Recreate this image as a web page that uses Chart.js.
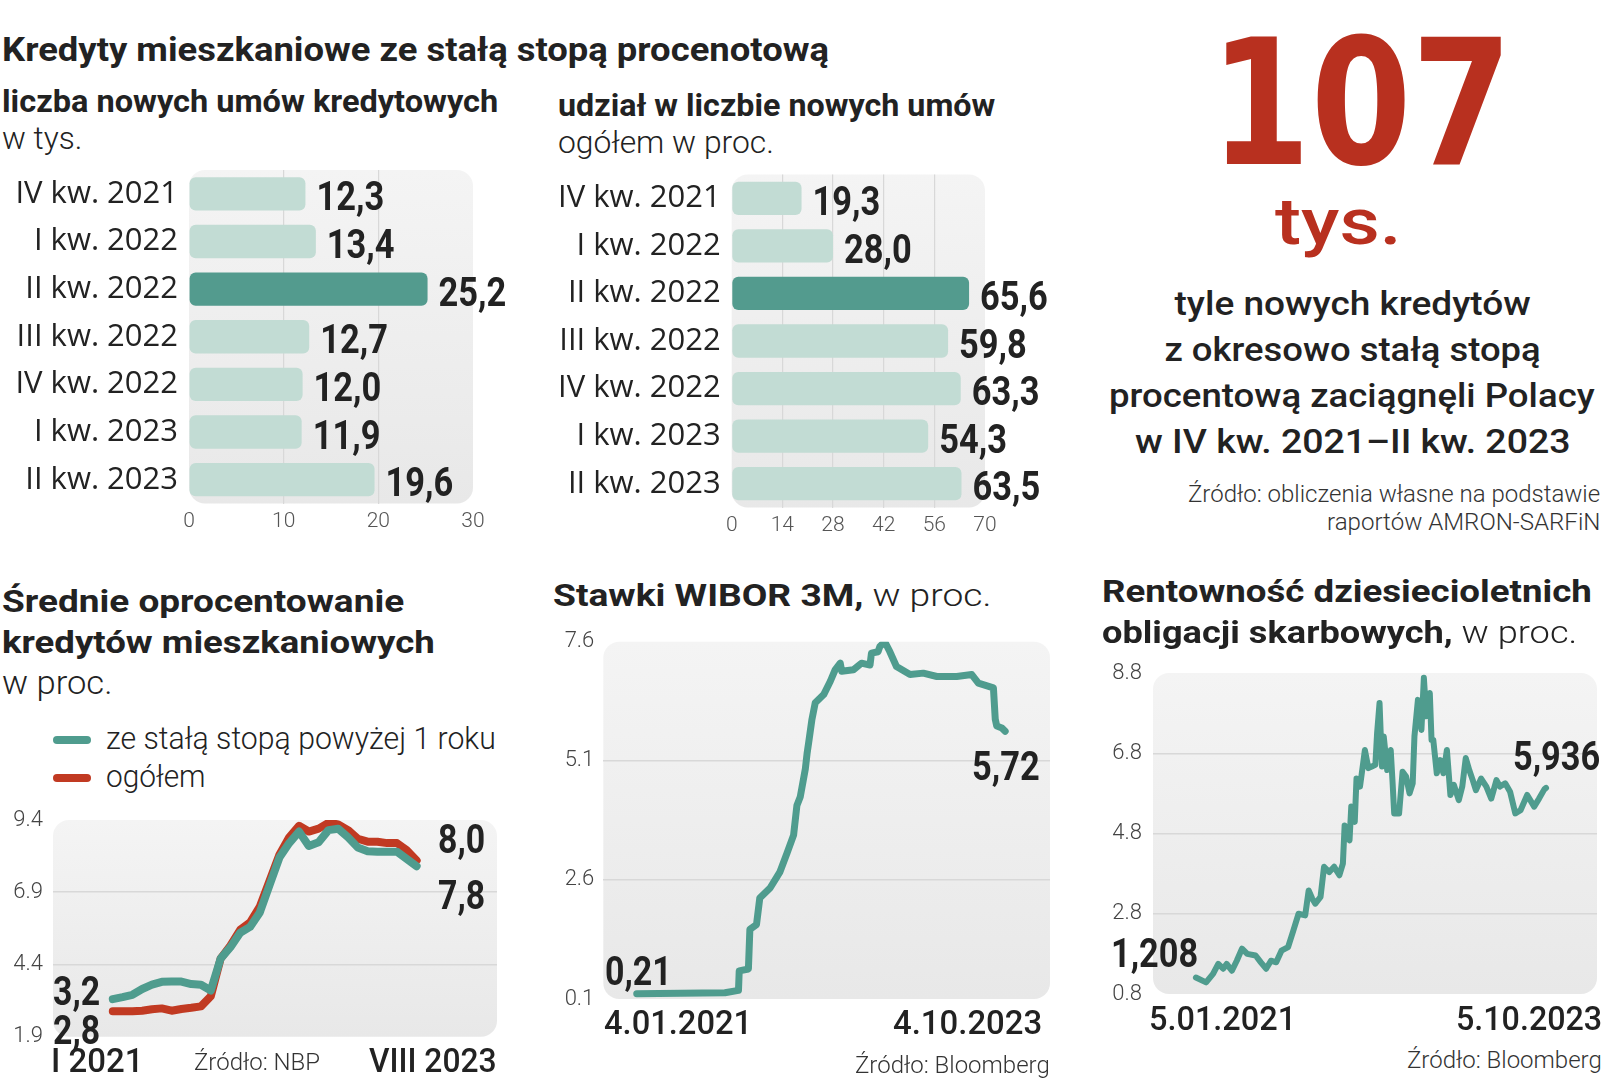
<!DOCTYPE html>
<html><head><meta charset="utf-8">
<script src="https://cdn.jsdelivr.net/npm/chart.js@4.4.1/dist/chart.umd.min.js"></script>
<style>
html,body{margin:0;padding:0;background:#fff;}
#page{position:relative;width:1606px;height:1080px;overflow:hidden;background:#fff;font-family:Roboto,'Noto Sans',sans-serif;color:#222;}
.t{position:absolute;white-space:nowrap;line-height:1;}
canvas{position:absolute;}
.sw{position:absolute;height:8px;border-radius:4px;}
</style></head>
<body><div id="page"></div>
<script>
// ---------- DATA ----------
const quarterLabels = ['IV kw. 2021','I kw. 2022','II kw. 2022','III kw. 2022','IV kw. 2022','I kw. 2023','II kw. 2023'];
const newContracts = [12.3, 13.4, 25.2, 12.7, 12.0, 11.9, 19.6];      // tys.
const shareOfContracts = [19.3, 28.0, 65.6, 59.8, 63.3, 54.3, 63.5];  // proc.
const contractTicks = [0, 10, 20, 30];
const shareTicks = [0, 14, 28, 42, 56, 70];

const rateMonths = ['I 2021','II 2021','III 2021','IV 2021','V 2021','VI 2021','VII 2021','VIII 2021','IX 2021','X 2021','XI 2021','XII 2021',
  'I 2022','II 2022','III 2022','IV 2022','V 2022','VI 2022','VII 2022','VIII 2022','IX 2022','X 2022','XI 2022','XII 2022',
  'I 2023','II 2023','III 2023','IV 2023','V 2023','VI 2023','VII 2023','VIII 2023'];
const rateFixed = [3.2,3.27,3.35,3.55,3.7,3.8,3.81,3.81,3.72,3.7,3.5,4.6,5.0,5.5,5.7,6.2,7.15,8.1,8.6,9.0,8.5,8.63,9.05,9.1,8.8,8.45,8.32,8.3,8.3,8.3,8.05,7.8];
const rateTotal = [2.78,2.78,2.78,2.8,2.85,2.88,2.8,2.86,2.9,2.95,3.3,4.6,5.05,5.6,5.85,6.4,7.3,8.2,8.8,9.2,9.0,9.1,9.3,9.25,9.05,8.75,8.65,8.65,8.6,8.6,8.35,8.0];
const rateTicks = [1.9, 4.4, 6.9, 9.4];

const wiborDates = ['2021-01-04','2021-09-01','2021-10-08','2021-10-10','2021-11-04','2021-11-08','2021-11-26','2021-12-05',
  '2022-01-02','2022-01-29','2022-02-17','2022-03-07','2022-03-16','2022-03-25','2022-04-08','2022-04-13','2022-04-17','2022-04-26',
  '2022-05-05','2022-05-28','2022-06-15','2022-06-28','2022-07-12','2022-07-16','2022-08-17','2022-09-08','2022-10-01','2022-10-05',
  '2022-10-23','2022-10-28','2022-11-10','2022-11-24','2022-12-12','2023-01-18','2023-02-23','2023-04-01','2023-05-25','2023-07-05',
  '2023-07-23','2023-09-02','2023-09-07','2023-09-11','2023-09-25','2023-10-04'];
const wiborValues = [0.21,0.23,0.28,0.69,0.73,1.56,1.66,2.22,
  2.43,2.77,3.16,3.54,4.16,4.34,4.93,5.27,5.48,5.97,
  6.32,6.49,6.77,7.01,7.15,6.98,7.01,7.15,7.11,7.36,
  7.39,7.5,7.6,7.39,7.08,6.91,6.94,6.87,6.87,6.91,
  6.73,6.63,5.97,5.83,5.79,5.72];
const wiborTicks = [0.1, 2.6, 5.1, 7.6];

const bondDates = ['2021-01-05','2021-02-03','2021-02-23','2021-03-10','2021-03-24','2021-04-03','2021-04-18','2021-05-02','2021-05-17','2021-06-01',
  '2021-06-25','2021-07-10','2021-07-25','2021-08-08','2021-08-23','2021-09-07','2021-09-26','2021-10-11','2021-10-26','2021-11-14',
  '2021-11-24','2021-12-04','2021-12-13','2021-12-28','2022-01-07','2022-01-22','2022-02-05','2022-02-20','2022-03-02','2022-03-07',
  '2022-03-21','2022-03-26','2022-04-05','2022-04-10','2022-04-20','2022-04-29','2022-05-04','2022-05-14','2022-05-24','2022-06-03',
  '2022-06-08','2022-06-15','2022-06-22','2022-06-27','2022-07-07','2022-07-17','2022-07-22','2022-07-27','2022-08-10','2022-08-20',
  '2022-08-30','2022-09-09','2022-09-18','2022-09-23','2022-10-03','2022-10-13','2022-10-20','2022-10-27','2022-11-06','2022-11-11',
  '2022-11-16','2022-11-26','2022-12-06','2022-12-15','2022-12-25','2023-01-04','2023-01-14','2023-01-28','2023-02-07','2023-02-17',
  '2023-02-27','2023-03-09','2023-03-18','2023-04-02','2023-04-17','2023-05-01','2023-05-16','2023-05-26','2023-06-10','2023-06-24',
  '2023-07-09','2023-07-24','2023-08-12','2023-09-01','2023-09-15','2023-09-30','2023-10-05'];
const bondValues = [1.21,1.09,1.3,1.55,1.43,1.55,1.38,1.63,1.93,1.8,
  1.76,1.59,1.43,1.63,1.59,1.88,1.97,2.38,2.8,2.76,
  3.38,3.18,3.05,3.22,3.97,3.84,3.97,3.76,4.05,5.0,
  4.63,5.47,5.09,6.17,5.97,6.55,6.88,6.43,6.47,6.51,
  7.3,8.05,6.47,7.22,6.38,6.88,6.13,5.3,5.3,6.34,
  6.22,5.8,6.05,7.22,8.13,7.38,8.68,7.72,8.3,7.13,
  7.13,6.3,6.63,6.3,6.88,5.76,6.01,5.63,5.97,6.68,
  6.38,6.13,5.88,6.17,5.97,5.67,6.13,5.97,6.05,5.84,
  5.3,5.38,5.76,5.47,5.67,5.9,5.936];
const bondTicks = [0.8, 2.8, 4.8, 6.8, 8.8];

// ---------- STYLE ----------
const LIGHT = '#c2dcd4', DARK = '#539b8e', TEAL = '#4f9c8e', RED = '#c13a22', RED_TXT = '#b8301f';
const page = document.getElementById('page');
Chart.defaults.font.family = 'Roboto';
Chart.defaults.animation = false;

function dayIndex(dates){ const s = Date.parse(dates[0]); return dates.map(d => (Date.parse(d) - s) / 86400000); }
function mkCanvas(l,t,w,h){ const c=document.createElement('canvas'); c.width=w; c.height=h; c.style.left=l+'px'; c.style.top=t+'px'; c.style.width=w+'px'; c.style.height=h+'px'; page.appendChild(c); return c; }

const panelBg = { id:'panelBg', beforeDraw(chart){
  const a = chart.chartArea, ctx = chart.ctx;
  ctx.save();
  const g = ctx.createLinearGradient(0,a.top,0,a.bottom);
  g.addColorStop(0,'#f4f4f4'); g.addColorStop(1,'#e8e8e8');
  ctx.fillStyle = g;
  ctx.beginPath(); ctx.roundRect(a.left,a.top,a.right-a.left,a.bottom-a.top,16); ctx.fill();
  ctx.restore();
}};
const barValues = { id:'barValues', afterDatasetsDraw(chart){
  const ctx = chart.ctx, meta = chart.getDatasetMeta(0), vals = chart.data.datasets[0].data;
  meta.data.forEach((bar,i) => {
    ctx.save();
    ctx.font = '700 41px Roboto'; ctx.fillStyle = '#222'; ctx.textBaseline = 'alphabetic'; ctx.textAlign='left';
    ctx.translate(bar.x + 11, bar.y + bar.height/2);
    ctx.scale(0.84,1);
    ctx.fillText(vals[i].toFixed(1).replace('.',','),0,0);
    ctx.restore();
  });
}};
const gridColor = (c) => (!c.tick || c.index===0 || c.index===c.scale.ticks.length-1) ? 'rgba(0,0,0,0)' : '#d8d8d8';

function barChart(canvas, values, ticksArr, yWidth, pad, xH){
  return new Chart(canvas, {
    type:'bar',
    data:{ labels: quarterLabels, datasets:[{ data: values, backgroundColor: values.map((v,i)=> i===2 ? DARK : LIGHT), borderRadius:6, borderSkipped:false, barPercentage:0.7, categoryPercentage:1 }]},
    options:{ indexAxis:'y', responsive:false, animation:false, layout:{padding:pad},
      plugins:{ legend:{display:false}, tooltip:{enabled:false} },
      scales:{
        x:{ min: ticksArr[0], max: ticksArr[ticksArr.length-1], afterBuildTicks: s => { s.ticks = ticksArr.map(v=>({value:v})); },
            ticks:{ padding:6, color:'#555', font:{size:21, weight:'300'} },
            grid:{ drawTicks:false, color: gridColor, lineWidth:1.2 }, border:{display:false},
            afterFit: s => { s.height = xH; s.paddingLeft = 0; s.paddingRight = 0; } },
        y:{ ticks:{ padding:11, color:'#222', font:{family:'Open Sans', size:31} }, grid:{display:false, drawTicks:false}, border:{display:false},
            afterFit: s => { s.width = yWidth; s.paddingTop = 0; s.paddingBottom = 0; } }
      } },
    plugins:[panelBg, barValues]
  });
}

function lineChart(canvas, datasets, ticksArr, xmin, xmax, yWidth, pad, tickPad){
  return new Chart(canvas, {
    type:'line',
    data:{ datasets },
    options:{ responsive:false, animation:false, layout:{padding:pad},
      plugins:{ legend:{display:false}, tooltip:{enabled:false} },
      elements:{ point:{radius:0}, line:{tension:0, borderCapStyle:'round', borderJoinStyle:'round'} },
      scales:{
        x:{ type:'linear', display:false, min:xmin, max:xmax },
        y:{ min: ticksArr[0], max: ticksArr[ticksArr.length-1], afterBuildTicks: s => { s.ticks = ticksArr.map(v=>({value:v})); },
            ticks:{ padding:tickPad, color:'#444', font:{size:22, weight:'300'}, callback: v => Number(v).toFixed(1) },
            grid:{ drawTicks:false, color: gridColor, lineWidth:1.5 }, border:{display:false},
            afterFit: s => { s.width = yWidth; s.paddingTop = 0; s.paddingBottom = 0; } }
      } },
    plugins:[panelBg]
  });
}

// ---------- CHARTS ----------
barChart(mkCanvas(0,160,530,380), newContracts, contractTicks, 189, {left:0,right:57,top:10,bottom:0}, 36.5);
barChart(mkCanvas(540,165,520,380), shareOfContracts, shareTicks, 191.7, {left:0,right:75,top:9.5,bottom:0}, 37.5);

lineChart(mkCanvas(0,800,520,260), [
  { data: rateFixed.map((v,i)=>({x:i, y:v})), borderColor: TEAL, borderWidth: 8 },
  { data: rateTotal.map((v,i)=>({x:i, y:v})), borderColor: RED, borderWidth: 8 }
], rateTicks, -6.1, 39.2, 53, {left:0,right:23,top:20,bottom:23.3}, 10);

const wd = dayIndex(wiborDates);
lineChart(mkCanvas(540,620,530,400), [
  { data: wiborValues.map((v,i)=>({x:wd[i], y:v})), borderColor: TEAL, borderWidth: 7 }
], wiborTicks, -91, 1125, 63.3, {left:0,right:20,top:21.7,bottom:21}, 9);

const bd = dayIndex(bondDates);
lineChart(mkCanvas(1090,650,516,370), [
  { data: bondValues.map((v,i)=>({x:bd[i], y:v})), borderColor: TEAL, borderWidth: 6 }
], bondTicks, -123, 1149, 63, {left:0,right:9,top:23,bottom:26}, 11);

// legend swatches
[[TEAL,740],[RED,778]].forEach(([c,y])=>{ const s=document.createElement('div'); s.className='sw'; s.style.background=c; s.style.left='53px'; s.style.width='38px'; s.style.top=(y-4)+'px'; page.appendChild(s); });

// ---------- TEXT ----------
const texts = [];
function T(html,x,y,o){ texts.push(Object.assign({html,x,y},o)); }
T('Kredyty mieszkaniowe ze stałą stopą procenotową', 2, 61, {fs:34, fw:700, w:827});
T('liczba nowych umów kredytowych', 2, 112, {fs:31, fw:700, w:496});
T('w tys.', 2, 149, {fs:32, fw:300, w:80});
T('udział w liczbie nowych umów', 558, 116, {fs:31, fw:700, w:437});
T('ogółem w proc.', 558, 153, {fs:32, fw:300, w:216});

T('107', 1210, 164, {fs:175, fw:700, ff:'DejaVu Sans', w:302, c:RED_TXT});
T('tys.', 1275, 244, {fs:64, fw:500, w:126, c:RED_TXT});
T('tyle nowych kredytów', 1352, 315, {fs:34, fw:500, w:356, a:'c'});
T('z okresowo stałą stopą', 1352, 361, {fs:34, fw:500, w:376, a:'c'});
T('procentową zaciągnęli Polacy', 1352, 407, {fs:34, fw:500, w:486, a:'c'});
T('w IV kw. 2021–II kw. 2023', 1352, 453, {fs:34, fw:500, w:435, a:'c'});
T('Źródło: obliczenia własne na podstawie', 1600, 502, {fs:24, fw:300, w:412, a:'r', c:'#333'});
T('raportów AMRON-SARFiN', 1600, 530, {fs:24, fw:300, w:273, a:'r', c:'#333'});

T('Średnie oprocentowanie', 2, 612, {fs:32, fw:700, w:402});
T('kredytów mieszkaniowych', 2, 653, {fs:32, fw:700, w:433});
T('w proc.', 2, 694, {fs:33, fw:300, w:110});
T('ze stałą stopą powyżej 1 roku', 106, 749, {fs:31, fw:300, w:390});
T('ogółem', 106, 787, {fs:31, fw:300, w:100});
T('3,2', 53, 1005, {fs:41, fw:700, w:47});
T('2,8', 53, 1044, {fs:41, fw:700, w:47});
T('8,0', 438, 853, {fs:41, fw:700, w:47});
T('7,8', 438, 909, {fs:41, fw:700, w:47});
T('I 2021', 51, 1072, {fs:34, fw:500, w:92});
T('Źródło: NBP', 194, 1070, {fs:24, fw:300, w:126, c:'#333'});
T('VIII 2023', 497, 1072, {fs:34, fw:500, w:128, a:'r'});

T('Stawki WIBOR 3M,<span style="font-weight:300"> w proc.</span>', 553, 606, {fs:32, fw:700, w:438});
T('0,21', 605, 985, {fs:41, fw:700, w:67});
T('5,72', 972, 780, {fs:41, fw:700, w:68});
T('4.01.2021', 604, 1034, {fs:34, fw:500, w:148});
T('4.10.2023', 1042, 1034, {fs:34, fw:500, w:149, a:'r'});
T('Źródło: Bloomberg', 1050, 1073, {fs:24, fw:300, w:195, a:'r', c:'#333'});

T('Rentowność dziesiecioletnich', 1102, 602, {fs:32, fw:700, w:490});
T('obligacji skarbowych,<span style="font-weight:300"> w proc.</span>', 1102, 643, {fs:32, fw:700, w:475});
T('1,208', 1111, 967, {fs:41, fw:700, w:87});
T('5,936', 1513, 770, {fs:41, fw:700, w:87});
T('5.01.2021', 1149, 1030, {fs:34, fw:500, w:147});
T('5.10.2023', 1602, 1030, {fs:34, fw:500, w:146, a:'r'});
T('Źródło: Bloomberg', 1602, 1068, {fs:24, fw:300, w:195, a:'r', c:'#333'});

function renderTexts(){
  for (const t of texts){
    const d = document.createElement('div'); d.className='t';
    d.style.fontFamily = (t.ff ? "'"+t.ff+"'," : '') + 'Roboto, sans-serif';
    d.style.fontSize = t.fs+'px'; d.style.fontWeight = t.fw || 400; d.style.color = t.c || '#222';
    d.innerHTML = t.html + '<i style="display:inline-block;width:0;height:0;vertical-align:baseline"></i>';
    page.appendChild(d);
    const off = d.lastChild.offsetTop;
    const w0 = d.offsetWidth;
    const s = t.w ? t.w / w0 : 1;
    let left = t.x, origin = 'left';
    if (t.a === 'r'){ left = t.x - w0; origin = 'right'; }
    else if (t.a === 'c'){ left = t.x - w0/2; origin = 'center'; }
    d.style.left = left+'px'; d.style.top = (t.y - off)+'px';
    d.style.transformOrigin = origin + ' top';
    d.style.transform = 'scaleX(' + s.toFixed(4) + ')';
  }
}
renderTexts();
</script>
</body></html>
